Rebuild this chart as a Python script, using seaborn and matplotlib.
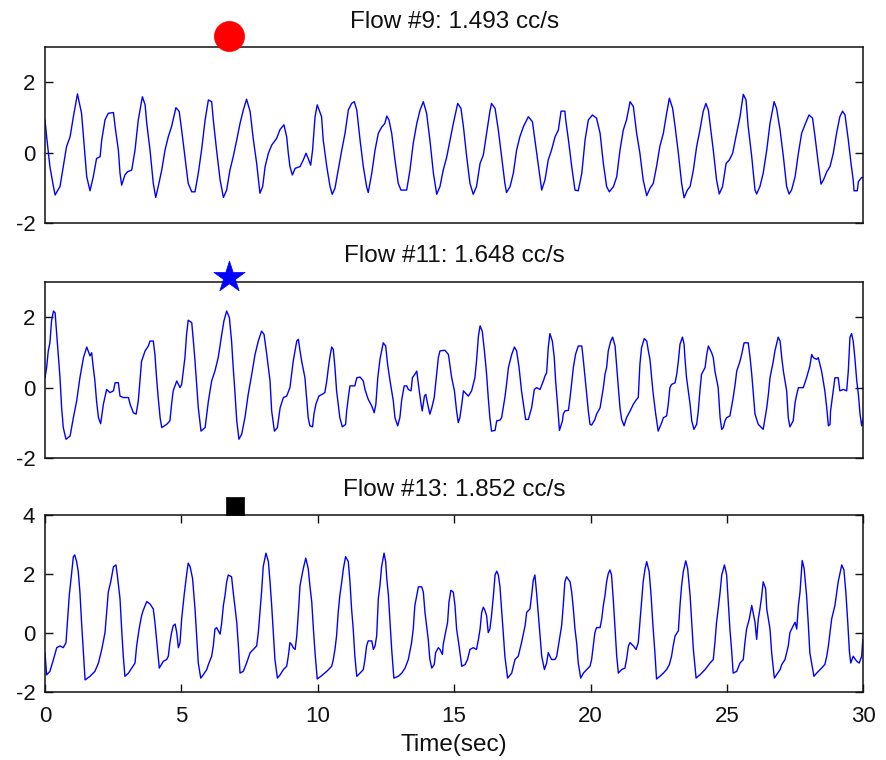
import matplotlib
matplotlib.use("Agg")
import matplotlib.pyplot as plt
import seaborn as sns
import pandas as pd

# ---------------- data ----------------
titles = ["Flow #9: 1.493 cc/s", "Flow #11: 1.648 cc/s", "Flow #13: 1.852 cc/s"]
x_label = "Time(sec)"
x_ticks = [0, 5, 10, 15, 20, 25, 30]
y_ticks = [[-2, 0, 2], [-2, 0, 2], [-2, 0, 2, 4]]
y_limits = [(-2, 3), (-2, 3), (-2, 4)]

event_time = [6.73, 6.73, 6.97]
event_level = [3.32, 3.13, 4.32]
event_marker = ["o", "*", "s"]
event_color = ["#ff0000", "#0000ff", "#000000"]

flow9 = [
    (0.00, 0.93), (0.06, 0.45), (0.18, -0.40), (0.31, -0.97), (0.37, -1.21), (0.55, -0.97), (0.67, -0.40),
    (0.79, 0.17), (0.92, 0.45), (1.04, 1.02), (1.19, 1.67), (1.34, 1.12), (1.41, 0.45), (1.47, -0.12),
    (1.53, -0.69), (1.65, -1.09), (1.77, -0.69), (1.89, -0.17), (2.02, -0.12), (2.08, 0.36), (2.20, 0.93),
    (2.32, 1.12), (2.51, 1.14), (2.57, 0.74), (2.69, 0.07), (2.75, -0.59), (2.81, -0.93), (2.93, -0.64),
    (3.02, -0.55), (3.18, -0.50), (3.30, 0.07), (3.42, 0.93), (3.57, 1.59), (3.67, 1.36), (3.73, 0.83),
    (3.85, 0.07), (3.97, -0.88), (4.06, -1.28), (4.15, -0.97), (4.28, -0.50), (4.40, 0.07), (4.52, 0.45),
    (4.64, 0.74), (4.80, 1.28), (4.92, 1.17), (5.01, 0.64), (5.13, -0.12), (5.25, -0.88), (5.38, -1.12),
    (5.50, -1.12), (5.62, -0.59), (5.74, 0.07), (5.87, 0.93), (5.99, 1.50), (6.11, 1.45), (6.17, 0.93),
    (6.29, 0.07), (6.42, -0.78), (6.54, -1.28), (6.66, -1.07), (6.78, -0.50), (6.90, -0.12), (7.03, 0.36),
    (7.15, 0.83), (7.27, 1.21), (7.39, 1.52), (7.52, 1.17), (7.64, 0.36), (7.76, -0.31), (7.88, -1.16),
    (7.98, -0.97), (8.07, -0.40), (8.19, -0.02), (8.31, 0.21), (8.49, 0.40), (8.62, 0.66), (8.76, 0.79),
    (8.86, 0.45), (8.92, -0.02), (8.98, -0.40), (9.07, -0.64), (9.17, -0.45), (9.35, -0.40), (9.47, -0.21),
    (9.57, -0.02), (9.65, -0.17), (9.74, -0.36), (9.81, 0.07), (9.90, 1.02), (9.98, 1.36),
    (10.14, 1.02), (10.20, 0.36), (10.33, -0.40), (10.45, -0.97), (10.53, -1.19), (10.63, -1.02),
    (10.75, -0.50), (10.88, 0.07), (11.00, 0.55), (11.12, 1.21), (11.24, 1.40), (11.34, 1.45), (11.43, 1.21),
    (11.55, 0.36), (11.67, -0.40), (11.79, -0.97), (11.85, -1.14), (11.98, -0.59), (12.10, 0.07), (12.22, 0.55),
    (12.34, 0.72), (12.46, 0.83), (12.53, 1.04), (12.61, 0.93), (12.71, 0.55), (12.83, -0.21), (12.95, -0.88),
    (13.05, -1.07), (13.26, -1.07), (13.38, -0.50), (13.50, 0.26), (13.63, 0.83), (13.75, 1.21), (13.87, 1.45),
    (13.99, 1.12), (14.11, 0.36), (14.24, -0.59), (14.36, -1.19), (14.48, -0.97), (14.60, -0.50), (14.73, -0.12),
    (14.85, 0.36), (14.97, 0.83), (15.13, 1.40), (15.25, 1.26), (15.34, 0.74), (15.46, -0.12), (15.58, -0.88),
    (15.70, -1.19), (15.82, -0.97), (15.95, -0.31), (16.07, -0.07), (16.19, 0.55), (16.31, 1.17), (16.37, 1.40),
    (16.50, 1.26), (16.62, 0.64), (16.74, -0.12), (16.86, -0.88), (16.92, -1.14), (17.05, -0.97), (17.17, -0.59),
    (17.29, 0.07), (17.41, 0.45), (17.54, 0.74), (17.72, 1.02), (17.87, 0.88), (17.96, 0.36), (18.09, -0.40),
    (18.21, -1.07), (18.33, -0.78), (18.45, -0.21), (18.57, 0.07), (18.70, 0.45), (18.82, 0.64), (18.92, 1.18),
    (19.06, 1.18), (19.09, 0.93), (19.19, 0.36), (19.31, -0.40), (19.43, -1.07), (19.55, -1.09), (19.68, -0.59),
    (19.80, 0.36), (19.92, 0.93), (20.07, 1.07),
    (20.22, 0.98), (20.35, 0.55), (20.47, -0.31), (20.59, -0.97), (20.69, -1.12), (20.84, -0.97), (20.96, -0.69),
    (21.08, 0.07), (21.20, 0.64), (21.32, 0.93), (21.45, 1.45), (21.57, 1.31), (21.69, 0.55), (21.81, -0.02),
    (21.93, -0.78), (22.06, -1.23), (22.18, -1.02), (22.30, -0.88), (22.42, -0.40), (22.54, 0.17), (22.67, 0.55),
    (22.79, 1.12), (22.89, 1.55), (23.01, 1.26), (23.10, 0.74), (23.22, -0.02), (23.34, -0.88), (23.43, -1.29),
    (23.55, -1.07), (23.65, -0.97), (23.77, -0.50), (23.89, 0.17), (24.01, 0.64), (24.13, 1.17), (24.23, 1.40),
    (24.32, 1.21), (24.38, 0.83), (24.50, 0.07), (24.62, -0.78), (24.72, -1.18), (24.84, -0.97), (24.97, -0.31),
    (25.09, -0.21), (25.21, -0.02), (25.33, 0.45), (25.48, 1.02), (25.60, 1.66), (25.70, 1.50), (25.78, 0.74),
    (25.91, -0.12), (26.03, -1.07), (26.09, -1.18), (26.21, -0.97), (26.33, -0.59), (26.46, 0.07), (26.58, 0.83),
    (26.73, 1.45), (26.82, 1.26), (26.95, 0.64), (27.07, -0.12), (27.19, -0.97), (27.28, -1.18), (27.37, -1.07),
    (27.50, -0.69), (27.62, -0.02), (27.74, 0.55), (27.86, 0.79), (28.01, 1.07), (28.14, 0.98), (28.23, 0.45),
    (28.35, -0.31), (28.45, -0.90), (28.54, -0.78), (28.66, -0.55), (28.78, -0.40), (28.90, -0.02), (29.02, 0.55),
    (29.14, 1.02), (29.24, 1.18), (29.33, 1.07), (29.45, 0.36), (29.55, -0.31), (29.63, -0.78), (29.66, -1.09),
    (29.78, -1.09), (29.82, -0.83), (29.94, -0.71), (30.00, -0.71),
]

flow11 = [
    (0.00, 0.28), (0.06, 0.57), (0.12, 1.04), (0.18, 1.27), (0.24, 1.89), (0.31, 2.17), (0.37, 2.12),
    (0.43, 1.51), (0.49, 0.94), (0.55, 0.28), (0.61, -0.57), (0.67, -1.13), (0.77, -1.46), (0.92, -1.37),
    (1.04, -0.85), (1.16, -0.38), (1.28, 0.28), (1.41, 0.85), (1.53, 1.15), (1.65, 0.90), (1.71, 0.99),
    (1.77, 0.57), (1.83, 0.19), (1.89, -0.38), (1.96, -0.85), (2.04, -1.02), (2.14, -0.47), (2.26, -0.05),
    (2.38, -0.14), (2.51, -0.09), (2.57, 0.14), (2.69, 0.14), (2.75, -0.24), (2.87, -0.28), (3.06, -0.28),
    (3.12, -0.47), (3.24, -0.71), (3.34, -0.75), (3.42, -0.38), (3.48, 0.19), (3.54, 0.75), (3.67, 1.04),
    (3.79, 1.18), (3.85, 1.32), (3.97, 1.32), (4.03, 0.94), (4.09, 0.28), (4.15, -0.28), (4.22, -0.85),
    (4.28, -1.13), (4.46, -1.04), (4.58, -0.94), (4.64, -0.47), (4.70, -0.09), (4.83, 0.19), (4.95, 0.00),
    (5.01, 0.09), (5.07, 0.47), (5.13, 0.85), (5.19, 1.51), (5.25, 1.91), (5.38, 1.84), (5.44, 1.32),
    (5.50, 0.75), (5.56, 0.09), (5.62, -0.57), (5.72, -1.23), (5.87, -1.13), (5.99, -0.38), (6.11, 0.19),
    (6.23, 0.47), (6.35, 0.85), (6.48, 1.51), (6.56, 1.89), (6.66, 2.17), (6.76, 1.98), (6.84, 1.32),
    (6.90, 0.57), (6.96, -0.09), (7.03, -0.94), (7.11, -1.46), (7.21, -1.32), (7.33, -0.85), (7.45, -0.19),
    (7.58, 0.38), (7.70, 0.94), (7.82, 1.32), (7.94, 1.60), (8.03, 1.51), (8.13, 0.94), (8.25, 0.19),
    (8.31, -0.66), (8.41, -1.23), (8.52, -1.13), (8.62, -0.57), (8.74, -0.28), (8.86, -0.24), (8.98, 0.00),
    (9.10, 0.75), (9.23, 1.32), (9.29, 1.37), (9.35, 1.04), (9.41, 0.75), (9.53, 0.28), (9.59, -0.28),
    (9.65, -0.85), (9.71, -1.08), (9.81, -1.11), (9.86, -0.75), (9.93, -0.47),
    (10.04, -0.24), (10.20, -0.17), (10.26, -0.14), (10.33, 0.19), (10.39, 0.57), (10.45, 0.90), (10.51, 1.15),
    (10.57, 1.08), (10.63, 0.57), (10.69, -0.09), (10.75, -0.47), (10.81, -0.85), (10.90, -1.11), (11.02, -1.04),
    (11.06, -0.66), (11.12, -0.28), (11.18, 0.05), (11.36, 0.05), (11.43, 0.28), (11.55, 0.30), (11.67, 0.19),
    (11.73, -0.05), (11.85, -0.33), (11.98, -0.52), (12.07, -0.71), (12.13, -0.47), (12.20, 0.28), (12.28, 0.80),
    (12.34, 1.04), (12.40, 1.27), (12.49, 1.18), (12.56, 0.66), (12.65, 0.19), (12.77, -0.38), (12.83, -0.85),
    (12.93, -1.08), (13.01, -0.85), (13.08, -0.33), (13.17, 0.05), (13.26, 0.05), (13.32, -0.05), (13.42, -0.09),
    (13.47, 0.28), (13.56, 0.38), (13.63, 0.47), (13.69, 0.09), (13.78, -0.42), (13.83, -0.66), (13.91, -0.24),
    (13.96, -0.19), (14.03, -0.47), (14.11, -0.75), (14.18, -0.57), (14.27, -0.28), (14.36, 0.38), (14.42, 0.85),
    (14.48, 1.04), (14.66, 1.06), (14.79, 0.94), (14.85, 0.61), (14.91, 0.28), (15.01, -0.09), (15.09, -0.66),
    (15.15, -0.99), (15.21, -0.85), (15.28, -0.47), (15.34, -0.09), (15.46, -0.19), (15.52, -0.24), (15.64, -0.09),
    (15.76, 0.28), (15.82, 0.75), (15.89, 1.46), (15.95, 1.75), (16.03, 1.60), (16.11, 1.04), (16.19, 0.38),
    (16.25, -0.28), (16.31, -0.85), (16.37, -1.23), (16.50, -1.21), (16.56, -0.94), (16.68, -0.92), (16.74, -0.85),
    (16.86, -0.28), (16.92, 0.09), (16.99, 0.57), (17.11, 0.94), (17.21, 1.15), (17.29, 1.04), (17.38, 0.57),
    (17.47, -0.09), (17.54, -0.47), (17.62, -0.90), (17.72, -0.90), (17.84, -0.57), (17.94, -0.05), (18.02, 0.00),
    (18.15, -0.05), (18.27, 0.19), (18.33, 0.33), (18.39, 0.42), (18.45, 1.13), (18.51, 1.53), (18.60, 1.32),
    (18.67, 0.85), (18.72, 0.19), (18.79, -0.47), (18.86, -1.21), (18.97, -0.94), (19.00, -0.75), (19.06, -0.66),
    (19.19, -0.64), (19.25, -0.28), (19.37, 0.57), (19.45, 0.94), (19.55, 1.18), (19.68, 1.18), (19.74, 0.75),
    (19.80, 0.28), (19.86, -0.19), (19.92, -0.66), (19.98, -1.04),
    (20.04, -1.06), (20.16, -0.90), (20.22, -0.75), (20.35, -0.57), (20.41, -0.28), (20.47, 0.00), (20.53, 0.38),
    (20.59, 0.57), (20.65, 1.04), (20.74, 1.32), (20.81, 1.43), (20.90, 1.18), (20.96, 0.57), (21.02, 0.00),
    (21.08, -0.57), (21.14, -0.90), (21.23, -1.08), (21.32, -0.85), (21.45, -0.66), (21.57, -0.47), (21.69, -0.33),
    (21.75, -0.28), (21.81, 0.66), (21.87, 1.13), (21.97, 1.39), (22.06, 1.32), (22.12, 1.04), (22.18, 0.80),
    (22.24, 0.28), (22.30, -0.19), (22.39, -0.75), (22.48, -1.23), (22.61, -0.99), (22.67, -0.85), (22.79, -0.80),
    (22.85, -0.47), (22.91, 0.00), (22.97, 0.09), (23.10, 0.14), (23.16, 0.38), (23.22, 0.75), (23.28, 1.23),
    (23.37, 1.43), (23.43, 1.23), (23.46, 0.85), (23.52, 0.28), (23.65, -0.47), (23.71, -0.94), (23.79, -1.18),
    (23.89, -1.04), (23.95, -0.66), (24.01, -0.09), (24.07, 0.38), (24.20, 0.57), (24.26, 0.94), (24.32, 1.18),
    (24.44, 0.99), (24.50, 0.85), (24.56, 0.47), (24.68, 0.00), (24.75, -0.85), (24.81, -1.18), (24.87, -1.13),
    (24.93, -0.94), (24.99, -0.85), (25.11, -0.80), (25.23, -0.28), (25.30, 0.09), (25.36, 0.47), (25.48, 0.75),
    (25.54, 0.94), (25.63, 1.27), (25.78, 1.27), (25.85, 0.85), (25.91, 0.38), (25.97, -0.19), (26.03, -0.75),
    (26.15, -1.04), (26.33, -1.18), (26.40, -0.85), (26.46, -0.57), (26.52, -0.19), (26.58, 0.28), (26.70, 0.75),
    (26.76, 1.04), (26.88, 1.43), (26.95, 1.32), (27.01, 0.85), (27.07, 0.47), (27.19, -0.09), (27.25, -0.85),
    (27.31, -1.11), (27.43, -0.94), (27.50, -0.42), (27.56, -0.19), (27.62, 0.00), (27.80, 0.00), (27.92, 0.28),
    (28.04, 0.61), (28.11, 0.94), (28.17, 0.85), (28.29, 0.80), (28.35, 0.85), (28.41, 0.66), (28.47, 0.47),
    (28.59, -0.09), (28.66, -0.57), (28.72, -1.08), (28.78, -1.04), (28.80, -0.66), (28.88, -0.19), (28.96, 0.28),
    (29.08, 0.28), (29.14, -0.09), (29.27, -0.05), (29.39, -0.09), (29.45, 0.47), (29.51, 1.42), (29.57, 1.53),
    (29.63, 1.32), (29.69, 0.85), (29.76, 0.19), (29.82, -0.19), (29.88, -0.75), (29.94, -1.08), (30.00, -0.85),
]

flow13 = [
    (0.00, -0.66), (0.06, -1.41), (0.18, -1.29), (0.31, -0.89), (0.43, -0.49), (0.55, -0.43), (0.67, -0.49),
    (0.77, -0.32), (0.82, 0.37), (0.89, 1.28), (0.98, 2.08), (1.04, 2.59), (1.09, 2.65), (1.16, 2.42),
    (1.22, 2.08), (1.28, 1.39), (1.34, 0.37), (1.41, -0.66), (1.47, -1.58), (1.65, -1.46), (1.83, -1.29),
    (1.96, -1.01), (2.08, -0.55), (2.20, 0.02), (2.32, 1.39), (2.41, 1.74), (2.51, 2.25), (2.60, 2.31),
    (2.65, 1.97), (2.75, 1.17), (2.81, 0.14), (2.87, -0.78), (2.93, -1.46), (3.06, -1.35), (3.18, -1.18),
    (3.30, -1.01), (3.36, -0.43), (3.45, 0.14), (3.54, 0.59), (3.60, 0.77), (3.73, 1.07), (3.85, 0.99),
    (3.97, 0.82), (4.03, 0.37), (4.09, -0.21), (4.15, -0.78), (4.19, -1.18), (4.34, -0.95), (4.46, -0.89),
    (4.52, -0.78), (4.58, -0.32), (4.64, 0.02), (4.70, 0.25), (4.77, 0.31), (4.83, 0.02), (4.89, -0.49),
    (4.95, -0.32), (5.01, 0.48), (5.10, 1.28), (5.19, 1.97), (5.25, 2.37), (5.32, 2.25), (5.41, 1.85),
    (5.50, 0.82), (5.56, -0.09), (5.62, -1.01), (5.71, -1.52), (5.80, -1.41), (5.93, -1.23), (5.99, -1.06),
    (6.11, -0.78), (6.17, -0.43), (6.23, 0.14), (6.29, 0.19), (6.42, -0.03), (6.48, 0.37), (6.54, 0.94),
    (6.60, 1.28), (6.66, 1.74), (6.72, 1.97), (6.84, 1.91), (6.90, 1.39), (7.03, 0.37), (7.09, -0.43),
    (7.15, -1.35), (7.27, -1.29), (7.39, -1.01), (7.52, -0.66), (7.64, -0.55), (7.76, -0.43), (7.82, 0.02),
    (7.88, 0.71), (7.94, 1.39), (8.00, 2.25), (8.10, 2.71), (8.19, 2.42), (8.25, 1.74), (8.31, 0.94),
    (8.37, 0.02), (8.43, -0.89), (8.52, -1.52), (8.62, -1.41), (8.74, -1.23), (8.86, -1.12), (8.92, -0.78),
    (8.98, -0.32), (9.04, -0.38), (9.10, -0.49), (9.17, -0.55), (9.23, -0.09), (9.29, 0.71), (9.35, 1.62),
    (9.47, 2.19), (9.56, 2.54), (9.65, 2.19), (9.71, 1.62), (9.78, 1.05), (9.84, 0.14), (9.90, -0.66),
    (9.98, -1.55),
    (10.14, -1.44), (10.33, -1.29), (10.51, -1.12), (10.57, -0.89), (10.63, -0.55), (10.69, -0.09), (10.75, 0.71),
    (10.81, 1.28), (10.88, 1.74), (10.94, 2.19), (11.02, 2.59), (11.12, 2.42), (11.18, 1.74), (11.24, 0.82),
    (11.30, 0.14), (11.36, -0.78), (11.43, -1.46), (11.55, -1.35), (11.67, -1.23), (11.73, -0.89), (11.79, -0.43),
    (11.85, -0.26), (11.98, -0.26), (12.04, -0.55), (12.10, -0.43), (12.16, -0.09), (12.22, 1.17), (12.28, 1.62),
    (12.34, 2.25), (12.43, 2.71), (12.49, 2.42), (12.53, 1.85), (12.59, 1.28), (12.65, 0.37), (12.71, -0.55),
    (12.79, -1.52), (12.95, -1.46), (13.08, -1.35), (13.20, -1.18), (13.32, -0.89), (13.44, -0.32), (13.50, 0.14),
    (13.56, 0.94), (13.63, 1.28), (13.69, 1.57), (13.81, 1.57), (13.87, 1.39), (13.93, 0.71), (14.05, -0.21),
    (14.11, -0.89), (14.18, -1.18), (14.27, -1.06), (14.32, -0.66), (14.42, -0.49), (14.48, -0.55), (14.57, -0.72),
    (14.60, -0.38), (14.66, -0.09), (14.76, 0.37), (14.81, 1.05), (14.88, 1.45), (14.97, 1.39), (15.03, 0.94),
    (15.09, 0.14), (15.18, -0.43), (15.28, -1.12), (15.40, -1.06), (15.49, -0.89), (15.58, -0.55), (15.70, -0.49),
    (15.82, -0.55), (15.89, -0.21), (15.95, 0.14), (16.01, 0.71), (16.07, 0.88), (16.13, 0.77), (16.19, 0.59),
    (16.25, 0.02), (16.31, 0.14), (16.37, 0.59), (16.44, 1.28), (16.50, 1.97), (16.56, 2.10), (16.62, 1.97),
    (16.68, 1.57), (16.74, 0.82), (16.80, 0.02), (16.86, -0.78), (16.96, -1.52), (17.11, -1.35), (17.17, -1.12),
    (17.23, -0.89), (17.35, -0.78), (17.47, -0.32), (17.60, 0.25), (17.66, 0.71), (17.78, 0.82), (17.84, 1.28),
    (17.90, 1.79), (17.96, 1.97), (18.02, 1.39), (18.09, 0.59), (18.15, -0.09), (18.21, -0.78), (18.31, -1.23),
    (18.39, -1.01), (18.45, -0.66), (18.57, -0.89), (18.70, -0.89), (18.76, -0.78), (18.82, -0.43), (18.94, 0.25),
    (19.00, 0.94), (19.06, 1.74), (19.12, 1.91), (19.25, 1.74), (19.31, 1.39), (19.37, 0.82), (19.43, 0.14),
    (19.49, -0.32), (19.55, -1.01), (19.64, -1.52), (19.74, -1.35), (19.86, -1.23), (19.98, -1.12),
    (20.04, -0.89), (20.10, -0.43), (20.16, 0.02), (20.22, 0.19), (20.35, 0.19), (20.41, 0.48), (20.47, 0.94),
    (20.53, 1.28), (20.59, 1.74), (20.65, 2.02), (20.71, 2.14), (20.77, 1.97), (20.84, 1.05), (20.90, 0.14),
    (20.96, -0.78), (21.02, -1.35), (21.14, -1.23), (21.26, -1.18), (21.32, -0.89), (21.39, -0.43), (21.45, -0.32),
    (21.57, -0.43), (21.67, -0.55), (21.75, -0.32), (21.81, 0.37), (21.87, 1.05), (21.93, 1.74), (22.00, 2.19),
    (22.06, 2.42), (22.15, 2.08), (22.22, 1.28), (22.28, 0.37), (22.36, -0.66), (22.42, -1.55), (22.54, -1.46),
    (22.67, -1.35), (22.79, -1.23), (22.89, -1.06), (22.97, -0.78), (23.03, -0.43), (23.10, -0.09), (23.22, 0.08),
    (23.28, 0.94), (23.34, 1.62), (23.40, 2.08), (23.49, 2.45), (23.56, 2.19), (23.65, 1.28), (23.71, 0.37),
    (23.77, -0.55), (23.87, -1.52), (24.01, -1.41), (24.20, -1.23), (24.38, -1.01), (24.50, -0.89), (24.56, -0.32),
    (24.62, 0.37), (24.68, 0.82), (24.75, 1.39), (24.81, 1.97), (24.91, 2.31), (24.99, 1.97), (25.05, 1.05),
    (25.11, 0.14), (25.17, -0.55), (25.23, -1.35), (25.36, -1.29), (25.48, -1.01), (25.60, -0.89), (25.66, -0.32),
    (25.72, 0.14), (25.82, 0.48), (25.91, 0.94), (25.97, 0.65), (26.03, 0.37), (26.09, -0.21), (26.15, 0.48),
    (26.21, 0.82), (26.27, 1.22), (26.33, 1.74), (26.42, 1.51), (26.46, 0.82), (26.58, 0.14), (26.64, -0.66),
    (26.74, -1.52), (26.82, -1.41), (26.95, -1.23), (27.01, -1.06), (27.13, -0.89), (27.25, -0.43), (27.31, 0.02),
    (27.43, 0.25), (27.50, 0.37), (27.56, 0.14), (27.62, 0.94), (27.68, 1.39), (27.76, 2.46), (27.83, 2.19),
    (27.92, 1.28), (27.98, 0.37), (28.04, -0.66), (28.19, -1.46), (28.29, -1.35), (28.47, -1.18), (28.59, -1.06),
    (28.66, -0.78), (28.72, -0.43), (28.78, 0.02), (28.84, 0.48), (28.96, 0.94), (29.08, 1.74), (29.21, 2.31),
    (29.29, 2.14), (29.36, 1.39), (29.43, 0.37), (29.49, -0.61), (29.54, -1.01), (29.63, -0.78), (29.76, -0.95),
    (29.85, -1.01), (29.94, -0.78), (29.98, -0.21), (30.00, -0.43),
]

series = [flow9, flow11, flow13]

# ---------------- styling ----------------
sns.set_theme(style="white")
plt.rcParams["font.family"] = ["Liberation Sans", "DejaVu Sans"]

DPI = 100
fig = plt.figure(figsize=(8.86, 7.60), dpi=DPI)

W, H = 886.0, 760.0
left_px, right_px = 45.0, 863.3
frames = [(47.3, 222.7), (281.7, 458.3), (515.0, 692.3)]
marker_sizes = [470, 560, 150]
FS_TICK = 16
FS_TEXT = 17.5

for i in range(3):
    top_px, bot_px = frames[i]
    ax = fig.add_axes([left_px / W, 1 - bot_px / H, (right_px - left_px) / W, (bot_px - top_px) / H])
    df = pd.DataFrame(series[i], columns=["t", "flow"])
    sns.lineplot(data=df, x="t", y="flow", ax=ax, color="#0000ff", linewidth=1.0,
                 sort=False, estimator=None)
    ev = pd.DataFrame({"t": [event_time[i]], "v": [event_level[i]]})
    sns.scatterplot(data=ev, x="t", y="v", ax=ax, marker=event_marker[i], s=marker_sizes[i],
                    color=event_color[i], edgecolor=event_color[i], linewidth=0.5,
                    clip_on=False, zorder=10, legend=False)
    ax.set_xlim(0, 30)
    ax.set_ylim(*y_limits[i])
    ax.set_yticks(y_ticks[i])
    ax.set_yticklabels([str(v) for v in y_ticks[i]])
    ax.set_title(titles[i], fontsize=FS_TEXT, pad=14, color="#111111")
    ax.set_ylabel("")
    if i < 2:
        ax.set_xticks([])
        ax.set_xlabel("")
    else:
        ax.set_xticks(x_ticks)
        ax.set_xticklabels([str(v) for v in x_ticks])
        ax.set_xlabel(x_label, fontsize=FS_TEXT, labelpad=5, color="#111111")
    ax.tick_params(axis="both", direction="in", length=6, width=1.0, colors="#111111",
                   labelsize=FS_TICK, top=True, right=True, bottom=True, left=True)
    ax.tick_params(axis="y", pad=7)
    ax.tick_params(axis="x", pad=10)
    for sp in ax.spines.values():
        sp.set_visible(True)
        sp.set_color("#111111")
        sp.set_linewidth(1.1)
    ax.set_facecolor("white")
    ax.grid(False)

fig.savefig("out.png", dpi=DPI, facecolor="white")
